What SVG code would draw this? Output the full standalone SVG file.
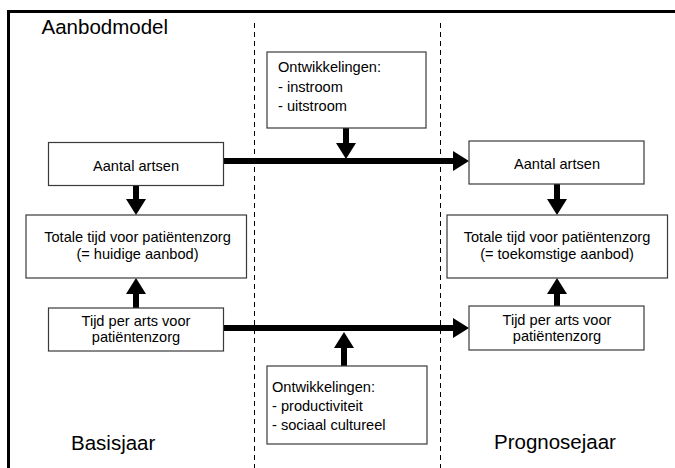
<svg xmlns="http://www.w3.org/2000/svg" width="675" height="468" viewBox="0 0 675 468">
<style>
text{font-family:"Liberation Sans",Arial,sans-serif;fill:#000}
.n{font-size:14.6px;text-anchor:middle}
.d{font-size:14.6px}
.big{font-size:20.5px}
.box{fill:#fff;stroke:#3a3a3a;stroke-width:1.2}
.c{stroke:#000;stroke-width:6;fill:none;marker-end:url(#ah)}
.dash{stroke:#000;stroke-width:1;stroke-dasharray:5,4;fill:none}
</style>
<defs>
<marker id="ah" markerUnits="userSpaceOnUse" viewBox="0 -10 16 20" refX="0" refY="0" markerWidth="16" markerHeight="20" orient="auto">
<path d="M0,-10 L16,0 L0,10 z" fill="#000"/>
</marker>
</defs>
<rect width="675" height="468" fill="#fff"/>
<g id="frame">
<path d="M8.5,468 L8.5,11.5 L675,11.5" fill="none" stroke="#000" stroke-width="3"/>
<line class="dash" x1="254.5" y1="23" x2="254.5" y2="468"/>
<line class="dash" x1="440.5" y1="23" x2="440.5" y2="468"/>
</g>
<g id="labels">
<text class="big" x="41.5" y="33.5">Aanbodmodel</text>
<text class="big" x="71" y="450">Basisjaar</text>
<text class="big" x="494" y="449">Prognosejaar</text>
</g>
<g id="connectors">
<line class="c" x1="346" y1="128" x2="346" y2="143"/>
<line class="c" x1="223" y1="161" x2="453" y2="161"/>
<line class="c" x1="136" y1="185" x2="136" y2="199"/>
<line class="c" x1="136" y1="308" x2="136" y2="294"/>
<line class="c" x1="223" y1="328" x2="453" y2="328"/>
<line class="c" x1="344" y1="366" x2="344" y2="348"/>
<line class="c" x1="557" y1="184" x2="557" y2="199"/>
<line class="c" x1="557" y1="306" x2="557" y2="294"/>
</g>
<g id="ontw-top">
<rect class="box" x="267" y="52" width="159" height="76"/>
<text class="d" x="278" y="72">Ontwikkelingen:</text>
<text class="d" x="278" y="91.5">- instroom</text>
<text class="d" x="278" y="110.5">- uitstroom</text>
</g>
<g id="aantal-basis">
<rect class="box" x="48.5" y="142.5" width="175" height="43"/>
<text class="n" x="136" y="170.5">Aantal artsen</text>
</g>
<g id="totale-basis">
<rect class="box" x="26" y="215" width="220.5" height="63"/>
<text class="n" x="137.5" y="241.5">Totale tijd voor patiëntenzorg</text>
<text class="n" x="137.5" y="259">(= huidige aanbod)</text>
</g>
<g id="tijd-basis">
<rect class="box" x="48.5" y="308" width="175" height="43"/>
<text class="n" x="136" y="326">Tijd per arts voor</text>
<text class="n" x="136" y="341.5">patiëntenzorg</text>
</g>
<g id="aantal-prognose">
<rect class="box" x="469" y="141" width="175" height="43"/>
<text class="n" x="557" y="168.5">Aantal artsen</text>
</g>
<g id="totale-prognose">
<rect class="box" x="447" y="215" width="220.5" height="63"/>
<text class="n" x="557" y="241.5">Totale tijd voor patiëntenzorg</text>
<text class="n" x="557" y="259">(= toekomstige aanbod)</text>
</g>
<g id="tijd-prognose">
<rect class="box" x="469" y="306" width="175" height="44"/>
<text class="n" x="557" y="325">Tijd per arts voor</text>
<text class="n" x="557" y="340.5">patiëntenzorg</text>
</g>
<g id="ontw-bottom">
<rect class="box" x="267" y="366" width="160" height="78"/>
<text class="d" x="272" y="392">Ontwikkelingen:</text>
<text class="d" x="272" y="410.5">- productiviteit</text>
<text class="d" x="272" y="429.5">- sociaal cultureel</text>
</g>
</svg>
